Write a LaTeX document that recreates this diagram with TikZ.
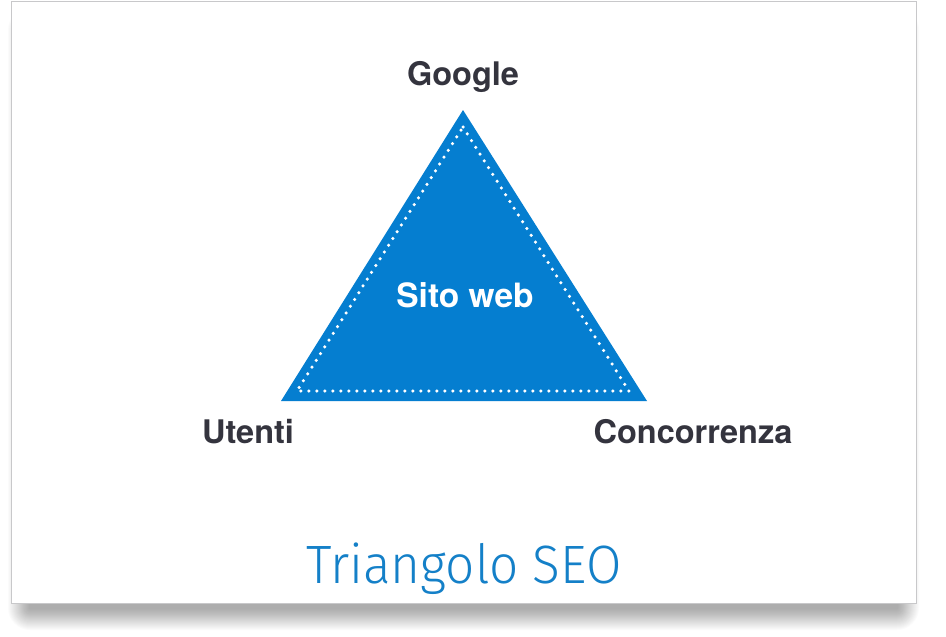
\documentclass[tikz,border=0pt]{standalone}
\usepackage{fontspec}
\setmainfont{TeX Gyre Heros}
\newfontfamily\lightfont{Fira Sans Light}[FakeStretch=0.95]
\definecolor{seoblue}{RGB}{5,126,208}
\definecolor{seotitle}{RGB}{20,128,200}
\definecolor{seotext}{RGB}{52,52,62}
\definecolor{cardline}{RGB}{200,200,202}
\tikzset{
  label/.style={font=\fontsize{32.5}{38}\selectfont\bfseries, text=seotext, inner sep=0pt, anchor=base},
  dots/.style={white, line width=3.5pt, line cap=round, dash pattern=on 0pt off 8pt}
}
\begin{document}
\begin{tikzpicture}[x=1pt, y=-1pt]

  \useasboundingbox (0,0) rectangle (946,637);
  \fill[white] (0,0) rectangle (946,637);

  % card and its shadow
  \foreach \r in {1,...,22}
    \fill[black, opacity=0.014, rounded corners=\r] (30-\r,30-\r) rectangle (897+\r,608+\r);
  \fill[white, draw=cardline, line width=0.9pt] (11,1) rectangle (916,603);

  \fill[seoblue] (463,110) -- (647,401) -- (281,401) -- cycle;
  \draw[dots] (463,127) -- (629,391) -- (297,391) -- cycle;

  \node[label] (google) at (463,85) {Google};
  \node[label] (utenti) at (248,443) {Utenti};
  \node[label] (concorrenza) at (693,443) {Concorrenza};
  \node[label, text=white, font=\fontsize{33.5}{38}\selectfont\bfseries] (sito) at (465,307) {Sito web};

  \node[font=\lightfont\fontsize{54}{60}\selectfont, text=seotitle, inner sep=0pt, anchor=base] (titolo) at (464,583) {Triangolo SEO};

\end{tikzpicture}
\end{document}
